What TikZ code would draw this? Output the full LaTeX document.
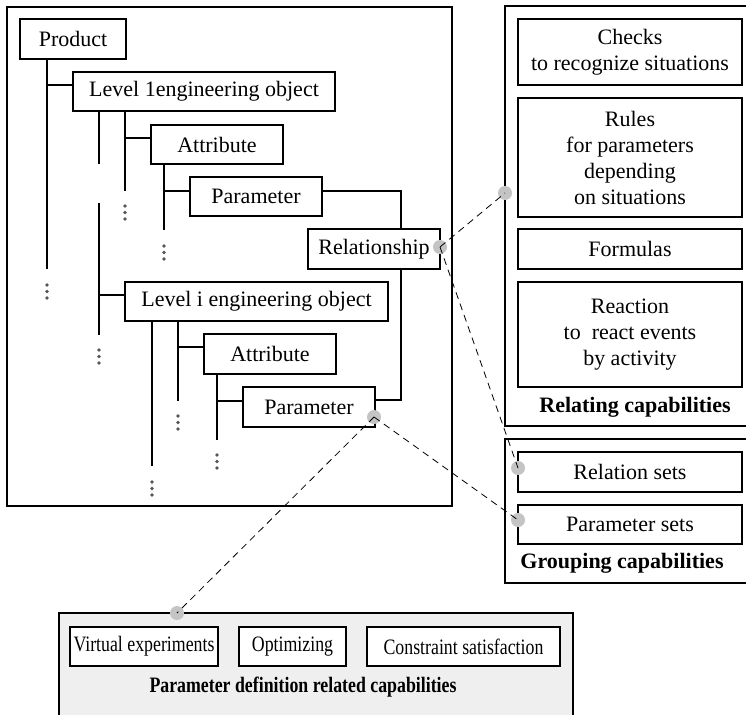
\documentclass[tikz,border=0pt]{standalone}
\usepackage{fontspec}
\setmainfont{Liberation Serif}
\newfontfamily\narrowserif[FakeStretch=0.81]{Liberation Serif}
\usetikzlibrary{calc}

\definecolor{dotgray}{HTML}{555555}
\definecolor{pingray}{HTML}{C4C4C4}
\definecolor{panelgray}{HTML}{EFEFEF}

\tikzset{
  item/.style={draw,line width=1.6pt,fill=white,inner sep=0pt,align=center,minimum height=39pt},
  narrowitem/.style={item,font=\narrowserif\fontsize{22}{26}\selectfont},
  caption/.style={font=\fontsize{22}{26}\selectfont\bfseries},
  pin/.style={circle,fill=pingray,inner sep=0pt,minimum size=14pt},
  link/.style={line width=0.8pt,dash pattern=on 7pt off 5pt},
  tree/.style={line width=1.6pt},
}
% three small dots below a cut branch
\newcommand{\moredots}[2]{\foreach \d in {0,6.5,13} \fill[dotgray] (#1,#2+\d) circle (1.8pt);}

\begin{document}
\begin{tikzpicture}[x=1pt,y=-1pt,font=\fontsize{22}{26}\selectfont]
\useasboundingbox (0,0) rectangle (746,714);
\clip (0,0) rectangle (746,714);

% product structure
\draw[line width=1.6pt] (7,7) rectangle (452,506);
\node[item,minimum width=106pt,minimum height=40pt] (prod) at (73,39) {Product};
\node[item,minimum width=262pt] (lvlA) at (204,91.5) {Level 1engineering object};
\node[item,minimum width=132pt] (attA) at (217,144.5) {Attribute};
\node[item,minimum width=132pt] (parA) at (256,196.5) {Parameter};
\node[item,minimum width=132pt,minimum height=40pt] (rel) at (374,249) {Relationship};
\node[item,minimum width=263pt] (lvlB) at (256.5,301.5) {Level i engineering object};
\node[item,minimum width=132pt,minimum height=40pt] (attB) at (270,354) {Attribute};
\node[item,minimum width=132pt,minimum height=40pt] (parB) at (309,407) {Parameter};

\draw[tree] (47,0 |- prod.south) -- (47,269);
\draw[tree] (47,85) -- (lvlA.west |- 0,85);
\draw[tree] (99,0 |- lvlA.south) -- (99,164);
\draw[tree] (99,203) -- (99,335);
\draw[tree] (99,295) -- (lvlB.west |- 0,295);
\draw[tree] (125,0 |- lvlA.south) -- (125,191);
\draw[tree] (125,138) -- (attA.west |- 0,138);
\draw[tree] (164,0 |- attA.south) -- (164,230);
\draw[tree] (164,191) -- (parA.west |- 0,191);
\draw[tree] (parA.east |- 0,191) -- (401,191) -- (401,0 |- rel.north);
\draw[tree] (401,0 |- rel.south) -- (401,400) -- (parB.east |- 0,400);
\draw[tree] (152,0 |- lvlB.south) -- (152,466);
\draw[tree] (178,0 |- lvlB.south) -- (178,401);
\draw[tree] (178,347) -- (attB.west |- 0,347);
\draw[tree] (217,0 |- attB.south) -- (217,440);
\draw[tree] (217,401) -- (parB.west |- 0,401);

\moredots{47}{285}
\moredots{99}{350}
\moredots{125}{206}
\moredots{164}{246}
\moredots{152}{482}
\moredots{178}{416}
\moredots{217}{455}

% relating capabilities
\draw[line width=1.6pt] (505,6) rectangle (760,426);
\node[item,minimum width=224pt,minimum height=66pt] (checks) at (630,52) {Checks\\to recognize situations};
\node[item,minimum width=224pt,minimum height=119pt] (rules) at (630,157.5) {Rules\\for parameters\\depending\\on situations};
\node[item,minimum width=224pt,minimum height=40pt] (formulas) at (630,249) {Formulas};
\node[item,minimum width=224pt,minimum height=105pt] (reaction) at (630,334.5) {Reaction\\to\ \ react events\\by activity};
\node[caption] (relcap) at (635,407) {Relating capabilities};

% grouping capabilities
\draw[line width=1.6pt] (505,439) rectangle (760,583);
\node[item,minimum width=224pt,minimum height=40pt] (relsets) at (630,472) {Relation sets};
\node[item,minimum width=224pt] (parsets) at (630,524.5) {Parameter sets};
\node[caption] (grpcap) at (622,563) {Grouping capabilities};

% parameter definition
\draw[line width=1.6pt,fill=panelgray] (59,613) rectangle (573,740);
\node[narrowitem,minimum width=148pt] (virt) at (144,646.5) {Virtual experiments};
\node[narrowitem,minimum width=107pt] (optim) at (292.5,646.5) {Optimizing};
\node[narrowitem,minimum width=193pt] (constr) at (463.5,646.5) {Constraint satisfaction};
\node[caption,font=\narrowserif\fontsize{22}{26}\selectfont\bfseries] (defcap) at (303,687) {Parameter definition related capabilities};

% pins and dashed links
\node[pin] (pRel) at (440,247) {};
\node[pin] (pParB) at (374,417) {};
\node[pin] (pRelCap) at (505,193) {};
\node[pin] (pRelSets) at (518,468) {};
\node[pin] (pParSets) at (518,520) {};
\node[pin] (pParDef) at (177,613) {};
\draw[link] (pRel.center) -- (pRelCap.center);
\draw[link] (pRel.center) -- (pRelSets.center);
\draw[link] (pParB.center) -- (pParSets.center);
\draw[link] (pParB.center) -- (pParDef.center);
\end{tikzpicture}
\end{document}
